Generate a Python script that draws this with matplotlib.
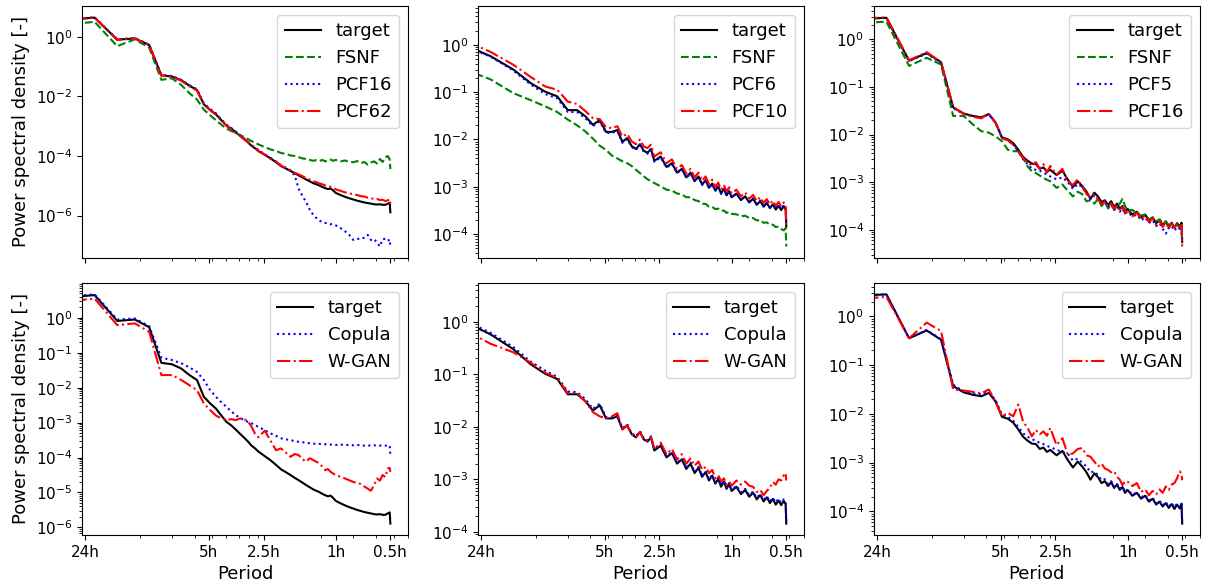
import numpy as np
import matplotlib.pyplot as plt

plt.rcParams["xtick.labelsize"] = 11
plt.rcParams["ytick.labelsize"] = 11
plt.rcParams["axes.labelsize"] = 13
plt.rcParams["legend.fontsize"] = 13

# ============================================================
# Data: Welch PSD bins (bin k -> k*24/64 cycles per day), values as log10(PSD)
# bin 1 lies left of the visible range but still sets the y autoscale
# ============================================================
bins = [1, 2, 3, 4, 5, 6, 7, 8, 9, 10, 11, 12, 13, 14, 15, 16, 17, 18, 19, 20, 21, 22, 23, 24,
        26, 28, 30, 32, 34, 36, 38, 40, 42, 44, 46, 48, 50, 52, 54, 56, 58, 60, 62, 64,
        68, 72, 76, 80, 84, 88, 92, 96, 100, 104, 108, 112, 116, 120, 124, 127, 128]

# --- dataset A (left column) ---
target_a = [0.30, 0.57, 0.65, -0.09, -0.05, -0.27, -1.29, -1.33, -1.45, -1.64, -1.78, -2.26, -2.45, -2.60, -2.80,
            -2.98, -3.08, -3.20, -3.32, -3.43, -3.54, -3.66, -3.74, -3.83,
            -3.96, -4.08, -4.21, -4.34, -4.42, -4.50, -4.58, -4.65, -4.72, -4.79, -4.85, -4.91, -4.95, -4.99,
            -5.04, -5.08, -5.11, -5.09, -5.16, -5.24,
            -5.31, -5.37, -5.42, -5.46, -5.50, -5.53, -5.56, -5.58, -5.60, -5.62, -5.63, -5.62, -5.64, -5.64,
            -5.60, -5.57, -5.89]
fsnf_a = [0.20, 0.40, 0.51, -0.31, -0.08, -0.36, -1.44, -1.39, -1.61, -1.89, -2.10, -2.44, -2.63, -2.80, -2.95,
          -3.08, -3.16, -3.23, -3.30, -3.36, -3.43, -3.50, -3.55, -3.61,
          -3.70, -3.78, -3.83, -3.90, -3.93, -3.98, -4.00, -4.04, -4.08, -4.10, -4.13, -4.16, -4.14, -4.17,
          -4.13, -4.18, -4.15, -4.12, -4.16, -4.13,
          -4.18, -4.15, -4.20, -4.21, -4.17, -4.24, -4.20, -4.29, -4.22, -4.18, -4.25, -4.10, -4.20, -4.05,
          -4.00, -4.12, -4.44]
pcf16_a = [0.30, 0.57, 0.66, -0.08, -0.03, -0.26, -1.27, -1.31, -1.44, -1.62, -1.76, -2.22, -2.42, -2.57, -2.77,
           -2.95, -3.06, -3.18, -3.30, -3.41, -3.52, -3.63, -3.71, -3.80,
           -3.94, -4.06, -4.19, -4.31, -4.40, -4.48, -4.65, -5.10, -5.35, -5.55, -5.80, -5.97, -6.08, -6.17,
           -6.22, -6.25, -6.26, -6.29, -6.30, -6.33,
           -6.42, -6.53, -6.65, -6.82, -6.78, -6.79, -6.74, -6.65, -6.82, -6.79, -6.90, -7.04, -6.80, -6.78,
           -6.85, -6.80, -7.04]
pcf62_a = [0.30, 0.55, 0.65, -0.10, -0.05, -0.28, -1.30, -1.34, -1.47, -1.66, -1.80, -2.28, -2.46, -2.62, -2.80,
           -2.98, -3.12, -3.23, -3.32, -3.44, -3.52, -3.66, -3.72, -3.84,
           -3.95, -4.10, -4.18, -4.33, -4.40, -4.49, -4.56, -4.62, -4.68, -4.74, -4.79, -4.84, -4.88, -4.92,
           -4.95, -4.99, -5.02, -5.03, -5.08, -5.12,
           -5.17, -5.22, -5.25, -5.29, -5.31, -5.35, -5.36, -5.40, -5.41, -5.45, -5.44, -5.48, -5.47, -5.51,
           -5.49, -5.45, -5.62]
copula_a = [0.30, 0.60, 0.67, -0.05, -0.02, -0.24, -1.14, -1.21, -1.30, -1.42, -1.55, -1.78, -2.07, -2.26, -2.42,
            -2.55, -2.68, -2.79, -2.86, -2.93, -2.98, -3.02, -3.08, -3.12,
            -3.22, -3.31, -3.38, -3.45, -3.48, -3.50, -3.53, -3.55, -3.56, -3.58, -3.59, -3.60, -3.61, -3.61,
            -3.62, -3.62, -3.62, -3.63, -3.63, -3.64,
            -3.63, -3.64, -3.64, -3.65, -3.64, -3.65, -3.66, -3.65, -3.66, -3.65, -3.66, -3.66, -3.65, -3.66,
            -3.65, -3.66, -3.93]
wgan_a = [0.20, 0.45, 0.55, -0.21, -0.16, -0.40, -1.64, -1.64, -1.78, -1.93, -2.07, -2.45, -2.64, -2.80, -2.88,
          -2.93, -2.90, -2.93, -2.88, -2.90, -2.96, -3.12, -3.32, -3.42,
          -3.23, -3.52, -3.79, -3.74, -3.86, -3.98, -3.90, -3.93, -4.05, -4.12, -4.02, -4.07, -4.12, -4.17,
          -4.26, -4.36, -4.33, -4.41, -4.46, -4.50,
          -4.55, -4.60, -4.65, -4.70, -4.73, -4.76, -4.83, -4.89, -4.95, -4.80, -4.60, -4.66, -4.50, -4.56,
          -4.31, -4.30, -4.41]

# --- dataset B (middle column) ---
target_b = [0.50, 0.05, -0.24, -0.52, -0.81, -0.99, -1.09, -1.38, -1.38, -1.51, -1.69, -1.59, -1.84, -1.84, -1.80,
            -2.05, -1.97, -2.14, -2.20, -2.10, -2.24, -2.28, -2.20, -2.45,
            -2.36, -2.58, -2.50, -2.70, -2.62, -2.80, -2.70, -2.88, -2.78, -2.95, -2.86, -3.02, -2.93, -3.08,
            -2.99, -3.14, -3.04, -3.18, -3.09, -3.22,
            -3.14, -3.28, -3.20, -3.33, -3.25, -3.38, -3.30, -3.42, -3.34, -3.45, -3.37, -3.48, -3.40, -3.49,
            -3.41, -3.47, -3.84]
fsnf_b = [0.00, -0.47, -0.73, -1.02, -1.17, -1.30, -1.42, -1.58, -1.70, -1.83, -1.98, -2.13, -2.22, -2.34, -2.40,
          -2.46, -2.50, -2.56, -2.64, -2.71, -2.78, -2.84, -2.88, -2.92,
          -2.99, -3.06, -3.08, -3.14, -3.16, -3.22, -3.22, -3.28, -3.30, -3.36, -3.36, -3.42, -3.42, -3.47,
          -3.46, -3.51, -3.50, -3.55, -3.53, -3.57,
          -3.58, -3.62, -3.61, -3.66, -3.66, -3.71, -3.70, -3.76, -3.75, -3.80, -3.80, -3.85, -3.84, -3.89,
          -3.92, -3.87, -4.26]
pcf6_b = [0.48, 0.03, -0.25, -0.54, -0.84, -1.04, -1.13, -1.42, -1.42, -1.55, -1.72, -1.62, -1.86, -1.86, -1.82,
          -2.07, -1.99, -2.16, -2.22, -2.12, -2.26, -2.30, -2.22, -2.47,
          -2.38, -2.59, -2.52, -2.71, -2.63, -2.81, -2.72, -2.89, -2.79, -2.96, -2.87, -3.03, -2.94, -3.09,
          -3.00, -3.15, -3.05, -3.18, -3.10, -3.22,
          -3.15, -3.27, -3.20, -3.32, -3.24, -3.36, -3.29, -3.40, -3.33, -3.43, -3.36, -3.45, -3.38, -3.47,
          -3.39, -3.44, -3.75]
pcf10_b = [0.58, 0.15, -0.15, -0.42, -0.68, -0.88, -0.95, -1.20, -1.25, -1.40, -1.55, -1.57, -1.74, -1.76, -1.72,
           -1.94, -1.88, -2.04, -2.10, -2.00, -2.15, -2.18, -2.11, -2.36,
           -2.27, -2.50, -2.42, -2.62, -2.54, -2.72, -2.62, -2.80, -2.70, -2.87, -2.78, -2.94, -2.85, -3.00,
           -2.91, -3.06, -2.96, -3.10, -3.01, -3.14,
           -3.06, -3.20, -3.12, -3.25, -3.17, -3.30, -3.22, -3.34, -3.26, -3.37, -3.29, -3.40, -3.32, -3.41,
           -3.33, -3.38, -3.80]
copula_b = [0.52, 0.08, -0.21, -0.48, -0.76, -0.93, -1.05, -1.33, -1.34, -1.47, -1.66, -1.56, -1.82, -1.82, -1.78,
            -2.03, -1.95, -2.12, -2.18, -2.08, -2.22, -2.26, -2.18, -2.43,
            -2.34, -2.56, -2.48, -2.68, -2.60, -2.78, -2.68, -2.86, -2.76, -2.93, -2.84, -3.00, -2.91, -3.06,
            -2.97, -3.12, -3.02, -3.16, -3.07, -3.20,
            -3.12, -3.25, -3.18, -3.30, -3.23, -3.35, -3.28, -3.39, -3.32, -3.42, -3.35, -3.44, -3.37, -3.45,
            -3.38, -3.42, -3.80]
wgan_b = [0.30, -0.09, -0.42, -0.58, -0.78, -0.97, -1.07, -1.36, -1.36, -1.52, -1.72, -1.80, -1.84, -1.80, -1.74,
          -2.04, -1.98, -2.14, -2.20, -2.10, -2.24, -2.27, -2.20, -2.42,
          -2.30, -2.52, -2.42, -2.62, -2.52, -2.70, -2.60, -2.74, -2.66, -2.82, -2.76, -2.88, -2.82, -2.98,
          -2.92, -3.04, -2.98, -3.10, -3.04, -3.12,
          -3.02, -3.10, -3.04, -3.12, -3.14, -3.24, -3.20, -3.30, -3.22, -3.16, -3.05, -3.10, -3.00, -3.02,
          -2.92, -2.88, -3.02]

# --- dataset C (right column) ---
target_c = [0.20, 0.42, 0.45, -0.45, -0.29, -0.48, -1.43, -1.56, -1.61, -1.64, -1.57, -1.75, -2.06, -2.10, -2.18,
            -2.32, -2.47, -2.55, -2.61, -2.62, -2.72, -2.69, -2.78, -2.74,
            -2.85, -2.76, -2.95, -3.10, -2.98, -3.08, -3.20, -3.35, -3.22, -3.30, -3.42, -3.38, -3.48, -3.40,
            -3.52, -3.45, -3.56, -3.50, -3.62, -3.56,
            -3.68, -3.62, -3.74, -3.68, -3.80, -3.74, -3.86, -3.80, -3.90, -3.83, -3.93, -3.85, -3.95, -3.86,
            -3.94, -3.85, -4.25]
fsnf_c = [0.10, 0.33, 0.37, -0.56, -0.39, -0.53, -1.61, -1.61, -1.79, -1.93, -1.96, -2.04, -2.14, -2.32, -2.35,
          -2.35, -2.49, -2.67, -2.77, -2.81, -2.86, -2.91, -2.95, -2.98,
          -3.12, -3.05, -3.18, -3.30, -3.20, -3.25, -3.40, -3.38, -3.45, -3.35, -3.50, -3.42, -3.55, -3.48,
          -3.58, -3.50, -3.45, -3.35, -3.50, -3.60,
          -3.58, -3.66, -3.70, -3.68, -3.78, -3.74, -3.82, -3.78, -3.86, -3.82, -3.90, -3.88, -3.94, -3.88,
          -3.96, -3.90, -4.30]
pcf5_c = [0.20, 0.42, 0.45, -0.46, -0.30, -0.50, -1.45, -1.57, -1.62, -1.64, -1.58, -1.76, -2.07, -2.12, -2.20,
          -2.36, -2.52, -2.62, -2.72, -2.74, -2.76, -2.80, -2.84, -2.88,
          -2.94, -2.90, -3.00, -3.14, -3.04, -3.10, -3.24, -3.36, -3.28, -3.34, -3.45, -3.42, -3.52, -3.45,
          -3.58, -3.50, -3.62, -3.55, -3.66, -3.62,
          -3.72, -3.68, -3.80, -3.74, -3.86, -3.80, -3.92, -3.86, -3.98, -4.08, -3.96, -3.92, -4.02, -3.94,
          -3.98, -3.92, -4.28]
pcf16_c = [0.20, 0.43, 0.46, -0.44, -0.27, -0.48, -1.42, -1.57, -1.63, -1.66, -1.56, -1.76, -2.08, -2.12, -2.22,
           -2.36, -2.50, -2.58, -2.66, -2.58, -2.72, -2.62, -2.80, -2.66,
           -2.84, -2.72, -2.98, -3.06, -2.94, -3.10, -3.24, -3.32, -3.26, -3.36, -3.46, -3.40, -3.52, -3.44,
           -3.56, -3.48, -3.60, -3.52, -3.66, -3.58,
           -3.72, -3.64, -3.78, -3.70, -3.84, -3.76, -3.90, -3.82, -3.94, -3.84, -3.98, -3.86, -3.96, -3.88,
           -3.98, -3.90, -4.35]
copula_c = [0.20, 0.43, 0.45, -0.45, -0.28, -0.47, -1.40, -1.54, -1.58, -1.60, -1.55, -1.72, -2.02, -2.06, -2.14,
            -2.27, -2.40, -2.47, -2.52, -2.55, -2.60, -2.62, -2.66, -2.68,
            -2.74, -2.78, -2.82, -2.96, -2.92, -3.00, -3.08, -3.20, -3.18, -3.26, -3.36, -3.34, -3.44, -3.38,
            -3.50, -3.44, -3.54, -3.49, -3.60, -3.55,
            -3.66, -3.61, -3.72, -3.66, -3.78, -3.72, -3.84, -3.78, -3.88, -3.81, -3.91, -3.83, -3.92, -3.84,
            -3.92, -3.84, -4.22]
wgan_c = [0.15, 0.35, 0.40, -0.45, -0.13, -0.30, -1.50, -1.52, -1.55, -1.58, -1.50, -1.75, -2.05, -1.98, -2.05,
          -1.81, -2.16, -2.29, -2.46, -2.33, -2.42, -2.36, -2.45, -2.29,
          -2.64, -2.50, -2.84, -2.81, -2.72, -2.70, -2.85, -2.88, -2.98, -3.08, -3.02, -3.12, -3.15, -3.20,
          -3.18, -3.29, -3.35, -3.46, -3.38, -3.39,
          -3.48, -3.42, -3.60, -3.55, -3.67, -3.58, -3.65, -3.55, -3.62, -3.49, -3.56, -3.45, -3.42, -3.32,
          -3.18, -3.22, -3.36]

period_ticks = [1, 4.8, 9.6, 24, 48]           # cycles per day
period_labels = ["24h", "5h", "2.5h", "1h", "0.5h"]

freq = np.array(bins) * 24 / 64  # cycles per day

# (label, values, color, linestyle) per panel
panels = [
    [("target", target_a, "k", "-"), ("FSNF", fsnf_a, "g", "--"),
     ("PCF16", pcf16_a, "b", ":"), ("PCF62", pcf62_a, "r", "-.")],
    [("target", target_b, "k", "-"), ("FSNF", fsnf_b, "g", "--"),
     ("PCF6", pcf6_b, "b", ":"), ("PCF10", pcf10_b, "r", "-.")],
    [("target", target_c, "k", "-"), ("FSNF", fsnf_c, "g", "--"),
     ("PCF5", pcf5_c, "b", ":"), ("PCF16", pcf16_c, "r", "-.")],
    [("target", target_a, "k", "-"), ("Copula", copula_a, "b", ":"), ("W-GAN", wgan_a, "r", "-.")],
    [("target", target_b, "k", "-"), ("Copula", copula_b, "b", ":"), ("W-GAN", wgan_b, "r", "-.")],
    [("target", target_c, "k", "-"), ("Copula", copula_c, "b", ":"), ("W-GAN", wgan_c, "r", "-.")],
]

# ============================================================
# Figure
# ============================================================
fig, axes = plt.subplots(2, 3, figsize=(12.07, 5.86), dpi=100)
plt.subplots_adjust(left=0.068, right=0.994, top=0.99, bottom=0.087, wspace=0.215, hspace=0.099)

for idx, series in enumerate(panels):
    ax = axes[idx // 3][idx % 3]
    for label, vals, color, ls in series:
        ax.plot(freq, 10 ** np.array(vals), color=color, ls=ls, lw=1.5, label=label)
    ax.set_xscale("log")
    ax.set_yscale("log")
    ax.set_xlim(0.96, 60)
    ax.set_xticks(period_ticks)
    ax.tick_params(axis="x", which="minor", labelbottom=False)
    ax.tick_params(axis="y", which="minor", labelleft=False)
    if idx >= 3:
        ax.set_xticklabels(period_labels)
        ax.set_xlabel("Period")
    else:
        ax.tick_params(axis="x", which="major", labelbottom=False)
    if idx % 3 == 0:
        ax.set_ylabel("Power spectral density [-]")
    ax.legend(loc="upper right")

plt.savefig("out.png", dpi=100)
plt.close("all")
